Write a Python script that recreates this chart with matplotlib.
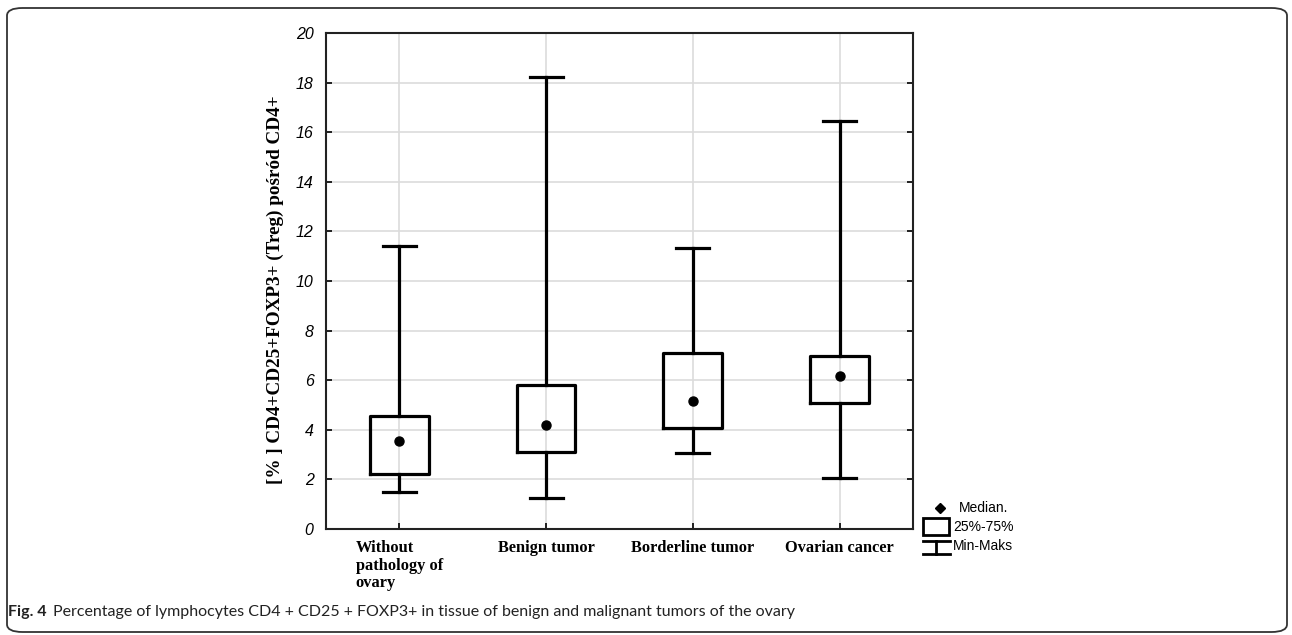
import matplotlib.pyplot as plt
from matplotlib.patches import FancyBboxPatch, Rectangle
from matplotlib.lines import Line2D

# Dane
groups = ['Without\npathology of\novary', 'Benign tumor', 'Borderline tumor', 'Ovarian cancer']
minimum = [1.48, 1.26, 3.05, 2.07]
q1 = [2.22, 3.12, 4.08, 5.07]
median = [3.56, 4.19, 5.16, 6.17]
q3 = [4.57, 5.81, 7.11, 6.99]
maximum = [11.41, 18.21, 11.34, 16.46]
yticks = [0, 2, 4, 6, 8, 10, 12, 14, 16, 18, 20]

fig = plt.figure(figsize=(12.92, 6.35), dpi=100)
ax = fig.add_axes([0.2523, 0.1669, 0.4543, 0.7811])

# ramka dookola
frame = FancyBboxPatch((7 / 1292, 3 / 635), 1280 / 1292, 624 / 635,
                       boxstyle='round,pad=0,rounding_size=0.012',
                       transform=fig.transFigure, fill=False,
                       edgecolor='#333333', linewidth=1.3)
fig.patches.append(frame)

stats = []
for i in range(len(groups)):
    stats.append({'whislo': minimum[i], 'q1': q1[i], 'med': median[i],
                  'q3': q3[i], 'whishi': maximum[i], 'fliers': []})

pos = list(range(len(groups)))
lw = 2.3
ax.bxp(stats, positions=pos, widths=0.4, capwidths=0.225, showfliers=False,
       boxprops=dict(color='black', linewidth=lw),
       whiskerprops=dict(color='black', linewidth=lw),
       capprops=dict(color='black', linewidth=lw),
       medianprops=dict(linestyle='none'))
ax.plot(pos, median, linestyle='none', marker='o', markersize=6.5, color='black')

ax.set_xlim(-0.5, 3.5)
ax.set_ylim(0, 20)
ax.set_yticks(yticks)
ax.set_yticklabels([str(t) for t in yticks], fontstyle='italic', fontsize=11.5,
                   family='Liberation Sans')
ax.set_xticks(pos)
ax.set_xticklabels(groups, family='Liberation Serif', fontweight='bold',
                   fontsize=11.8, multialignment='left', linespacing=1.12)
ax.grid(True, color='#dcdcdc', linewidth=1.2)
ax.set_axisbelow(True)
ax.tick_params(axis='y', direction='in', length=4, width=1.2, pad=9)
ax.tick_params(axis='x', direction='in', length=4, width=1.2, pad=8)
ax.tick_params(right=True, which='both')
for s in ax.spines.values():
    s.set_linewidth(1.5)
    s.set_color('#222222')

ax.set_ylabel('[% ] CD4+CD25+FOXP3+ (Treg) pośród CD4+', family='Liberation Serif',
              fontweight='bold', fontsize=13.8)
ax.yaxis.set_label_coords(-0.072, 0.483)

# legenda
T = ax.transAxes
def ax_x(px):
    return (px - 326) / 587
def ax_y(py):
    return (529 - py) / 496

ax.add_line(Line2D([ax_x(940)], [ax_y(508)], marker='D', markersize=5, color='black',
                   transform=T, clip_on=False))
ax.add_patch(Rectangle((ax_x(923), ax_y(535)), ax_x(949) - ax_x(923), ax_y(518) - ax_y(535),
                       fill=False, linewidth=2, edgecolor='black', transform=T, clip_on=False))
ax.add_line(Line2D([ax_x(923), ax_x(950)], [ax_y(541), ax_y(541)], color='black', lw=2,
                   transform=T, clip_on=False))
ax.add_line(Line2D([ax_x(923), ax_x(950)], [ax_y(554), ax_y(554)], color='black', lw=2,
                   transform=T, clip_on=False))
ax.add_line(Line2D([ax_x(936.5), ax_x(936.5)], [ax_y(541), ax_y(554)], color='black', lw=2,
                   transform=T, clip_on=False))
for txt, py, px in [('Median.', 508, 959), ('25%-75%', 527, 953), ('Min-Maks', 546, 953)]:
    ax.text(ax_x(px), ax_y(py), txt, transform=T, fontsize=10, family='Liberation Sans',
            va='center', ha='left')

# podpis
fig.text(8 / 1292, 1 - 612 / 635, 'Fig. 4', fontsize=11.5, fontweight='bold', va='center',
         ha='left', family='Lato', color='#222222')
fig.text(53 / 1292, 1 - 612 / 635,
         'Percentage of lymphocytes CD4 + CD25 + FOXP3+ in tissue of benign and malignant tumors of the ovary',
         fontsize=11.5, va='center', ha='left', family='Lato', color='#222222')

fig.savefig('out.png', dpi=100)
